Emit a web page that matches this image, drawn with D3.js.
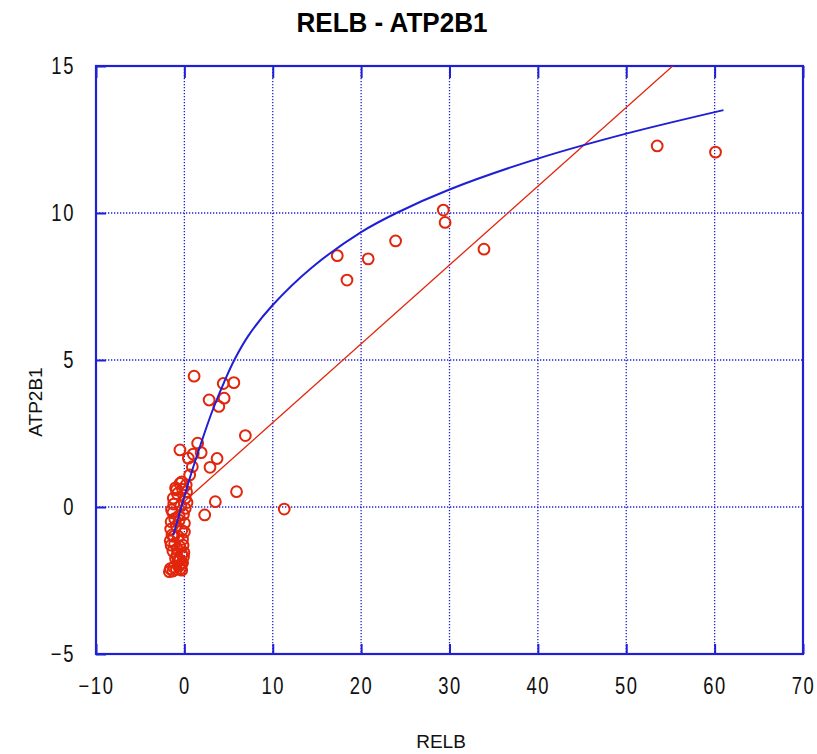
<!DOCTYPE html>
<html>
<head>
<meta charset="utf-8">
<script src="https://cdn.jsdelivr.net/npm/d3@7"></script>
<style>
  body { margin: 0; background: #fff; }
  svg { display: block; }
  .tick text { font-family: "Liberation Sans", Arial, sans-serif; font-size: 23px; fill: #111; }
</style>
</head>
<body>
<div id="chart"></div>
<script>
// scatter values (RELB, ATP2B1)
var pointX = [53.5, 60.1, 29.3, 29.5, 33.9, 23.9, 20.8, 17.3, 18.4, 11.3,
    1.1, 5.6, 4.4, 2.8, 4.5, 3.9, 6.9, -0.5, 1.5, 1.9, 1.0, 3.7, 2.9, 5.9, 3.5, 2.3,
    0.45, 0.9, 0.6, -0.5, -0.9, -1.25, 0.25, -0.3, 0.2, -0.8, 0.1, -1.2, -0.4, 0.3,
    -1.3, -0.6, -0.1, 0.0, -1.5, -0.9, -0.3, -1.4, -0.7, -0.2, -1.6, -1.1, -0.5,
    -1.3, -0.8, -0.3, -1.0, -0.5, -0.2, -1.6, -1.2, -0.6, -0.3, -1.7, -1.3, -0.9, -0.4,
    -1.0, -0.2, 0.1, -1.45, -0.6, 0.0, -1.1, -0.15, -1.55, -0.85, -0.05, -1.2, -0.45, -0.1, -1.5, -0.7];
var pointY = [12.28, 12.07, 10.1, 9.68, 8.77, 9.05, 8.44, 8.55, 7.72, -0.07,
    4.45, 4.23, 4.2, 3.64, 3.7, 3.42, 2.43, 1.94, 2.17, 1.85, 1.8, 1.65, 1.35, 0.52, 0.18, -0.27,
    1.66, 1.37, 1.09, 0.8, 0.58, 0.3, 0.52, 0.85, 0.75, 0.45, 0.3, 0.1, 0.05, 0.15,
    -0.2, -0.3, -0.25, -0.55, -0.5, -0.65, -0.8, -0.95, -1.0, -1.1, -1.15, -1.25, -1.35,
    -1.5, -1.45, -1.6, -1.75, -1.8, -1.9, -2.1, -2.05, -2.0, -2.15, -2.2, -2.18, -2.12, -1.95,
    0.65, 0.6, -0.05, -0.1, -0.45, -0.85, -0.4, -1.3, -0.75, -1.65, -1.55, -1.0, -2.1, -1.7, -1.3, -1.85];

// blue fitted curve
var curveX = [-1.25, -0.24, 0.63, 2.26, 3.27, 4.5, 5.65, 7.25, 10, 14.4, 20, 24, 30, 40, 50, 61];
var curveY = [-0.95, 0.1, 1.0, 2.5, 3.35, 4.25, 5.0, 5.83, 6.87, 8.14, 9.35, 10, 10.8, 11.85, 12.7, 13.5];

// red regression line end points
var lineX = [0, 61];
var lineY = [0.19, 16.54];

var xTicks = [-10, 0, 10, 20, 30, 40, 50, 60, 70];
var yTicks = [-5, 0, 5, 10, 15];

var margin = {top: 66, right: 14, bottom: 100, left: 96},
    W = 817, H = 754,
    width = W - margin.left - margin.right,
    height = H - margin.top - margin.bottom;

var blue = "#1f1fd6", red = "#e2260c";
var squeeze = 0.8; // tick labels are narrow in the original

var svg = d3.select("#chart").append("svg")
    .attr("width", W)
    .attr("height", H);
svg.append("rect").attr("width", W).attr("height", H).attr("fill", "#fff");

var g = svg.append("g")
    .attr("transform", "translate(" + margin.left + "," + margin.top + ")");

var x = d3.scaleLinear().domain([-10, 70]).range([0, width]);
var y = d3.scaleLinear().domain([-5, 15]).range([height, 0]);

g.append("clipPath").attr("id", "clip")
  .append("rect").attr("width", width).attr("height", height);

// dotted grid
g.selectAll(".gx").data(xTicks.slice(1, -1)).enter().append("line")
    .attr("x1", function(d) { return x(d); }).attr("x2", function(d) { return x(d); })
    .attr("y1", 0).attr("y2", height)
    .attr("stroke", blue).attr("stroke-width", 1.3).attr("stroke-dasharray", "1.3,1.7");
g.selectAll(".gy").data(yTicks.slice(1, -1)).enter().append("line")
    .attr("y1", function(d) { return y(d); }).attr("y2", function(d) { return y(d); })
    .attr("x1", 0).attr("x2", width)
    .attr("stroke", blue).attr("stroke-width", 1.3).attr("stroke-dasharray", "1.3,1.7");

// axes with inward ticks
var xAxis = g.append("g")
    .attr("transform", "translate(0," + height + ")")
    .call(d3.axisBottom(x).tickValues(xTicks).tickSize(-10).tickPadding(24));
var xTop = g.append("g")
    .call(d3.axisTop(x).tickValues(xTicks).tickSize(-12).tickFormat(""));
var yAxis = g.append("g")
    .call(d3.axisLeft(y).tickValues(yTicks).tickSize(-10).tickPadding(21 / squeeze));
[xAxis, xTop, yAxis].forEach(function(a) {
    a.select(".domain").remove();
    a.selectAll(".tick line").attr("stroke", blue).attr("stroke-width", 2);
});
xAxis.selectAll(".tick text")
    .attr("letter-spacing", "2px")
    .attr("transform", "scale(" + squeeze + ",1)");
yAxis.selectAll(".tick text")
    .attr("letter-spacing", "2px")
    .attr("transform", "scale(" + squeeze + ",1)");

// plot frame
g.append("rect")
    .attr("width", width).attr("height", height)
    .attr("fill", "none").attr("stroke", blue).attr("stroke-width", 2.2);

var plot = g.append("g").attr("clip-path", "url(#clip)");

// points
var pts = pointX.map(function(v, i) { return {x: v, y: pointY[i]}; });
plot.selectAll("circle").data(pts).enter().append("circle")
    .attr("cx", function(d) { return x(d.x); })
    .attr("cy", function(d) { return y(d.y); })
    .attr("r", 5.4)
    .attr("fill", "none")
    .attr("stroke", red)
    .attr("stroke-width", 2);

// regression line
plot.append("path")
    .datum(lineX.map(function(v, i) { return [v, lineY[i]]; }))
    .attr("fill", "none").attr("stroke", red).attr("stroke-width", 1.3)
    .attr("d", d3.line().x(function(d) { return x(d[0]); }).y(function(d) { return y(d[1]); }));

// fitted curve
plot.append("path")
    .datum(curveX.map(function(v, i) { return [v, curveY[i]]; }))
    .attr("fill", "none").attr("stroke", blue).attr("stroke-width", 2)
    .attr("d", d3.line().curve(d3.curveCatmullRom)
        .x(function(d) { return x(d[0]); }).y(function(d) { return y(d[1]); }));

// titles
svg.append("text")
    .attr("x", 392).attr("y", 32)
    .attr("text-anchor", "middle")
    .attr("textLength", 191).attr("lengthAdjust", "spacingAndGlyphs")
    .style("font-family", "Liberation Sans, Arial, sans-serif")
    .style("font-size", "27px").style("font-weight", "bold")
    .text("RELB - ATP2B1");

svg.append("text")
    .attr("x", 441).attr("y", 748)
    .attr("text-anchor", "middle")
    .style("font-family", "Liberation Sans, Arial, sans-serif")
    .style("font-size", "19px").attr("fill", "#111")
    .text("RELB");

svg.append("text")
    .attr("transform", "translate(42,402) rotate(-90)")
    .attr("text-anchor", "middle")
    .style("font-family", "Liberation Sans, Arial, sans-serif")
    .style("font-size", "19px").attr("fill", "#111")
    .text("ATP2B1");
</script>
</body>
</html>
